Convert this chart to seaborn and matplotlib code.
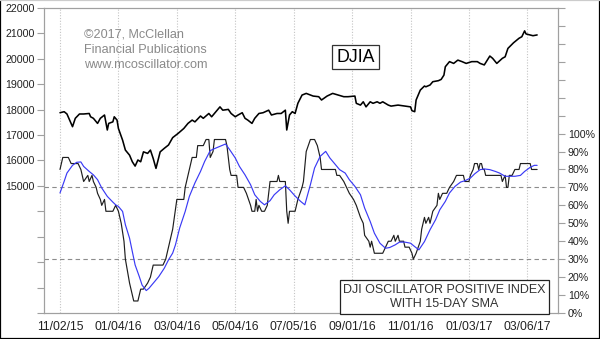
import numpy as np
import pandas as pd
import matplotlib
matplotlib.use("Agg")
import matplotlib.pyplot as plt
from matplotlib.lines import Line2D
from matplotlib.ticker import FixedLocator, FuncFormatter
import seaborn as sns

# ---- data: x values are NYSE trading sessions counted from 2015-11-02 (= 0) ----
djia_session = [
    0, 3, 5, 9, 11, 14, 17, 21, 22, 24,
    27, 29, 32, 34, 35, 38, 39, 41, 42, 45,
    47, 50, 52, 54, 56, 58, 60, 63, 65, 67,
    69, 72, 75, 78, 81, 85, 89, 92, 95, 97,
    101, 103, 107, 109, 113, 115, 117, 121, 123, 126,
    128, 131, 133, 135, 138, 140, 143, 146, 150, 152,
    156, 159, 162, 163, 165, 167, 169, 171, 174, 177,
    182, 186, 188, 192, 196, 200, 204, 207, 212, 213,
    216, 218, 220, 223, 225, 228, 230, 232, 236, 238,
    243, 248, 252, 253, 255, 256, 259, 262, 263, 266,
    268, 272, 274, 276, 277, 280, 283, 286, 289, 292,
    296, 300, 302, 305, 309, 311, 314, 318, 320, 322,
    326, 330, 332, 334, 335, 338, 340, 343,
]
djia_close = [
    17880, 17920, 17830, 17330, 17660, 17830, 17830, 17850, 17720, 17660,
    17460, 17660, 17790, 17200, 17460, 17520, 17720, 17590, 17260, 16800,
    16410, 16210, 15950, 15780, 16020, 15950, 16340, 16280, 16410, 16080,
    15690, 16340, 16480, 16610, 16900, 17070, 17260, 17460, 17590, 17520,
    17750, 17660, 17850, 17720, 17980, 18110, 17980, 18010, 17850, 17720,
    17790, 17880, 17660, 17590, 17460, 17660, 17850, 17880, 17980, 17790,
    17850, 17850, 17980, 17200, 17790, 17920, 17850, 18250, 18575, 18640,
    18535, 18510, 18380, 18535, 18640, 18575, 18510, 18510, 18535, 18250,
    18180, 18310, 18110, 18310, 18250, 18310, 18250, 18310, 18180, 18140,
    18180, 18140, 18110, 17960, 17920, 18380, 18770, 18930, 18900, 18970,
    19100, 19140, 19190, 19360, 19690, 19890, 19820, 19950, 19890, 19820,
    19890, 19890, 19820, 19760, 20110, 20020, 19820, 20020, 20080, 20410,
    20630, 20810, 20870, 21100, 20980, 20940, 20910, 20940,
]

osc_session = [
    0, 2, 6, 8, 11, 13, 15, 16, 17, 20,
    21, 23, 24, 26, 27, 29, 30, 32, 33, 38,
    40, 42, 44, 46, 47, 50, 51, 53, 56, 57,
    58, 60, 63, 65, 66, 67, 74, 76, 78, 79,
    81, 84, 89, 90, 92, 95, 98, 99, 103, 105,
    107, 108, 110, 111, 119, 120, 121, 122, 123, 127,
    128, 132, 134, 137, 138, 140, 141, 142, 143, 145,
    147, 149, 151, 156, 157, 158, 162, 163, 164, 165,
    169, 171, 174, 175, 177, 180, 183, 185, 187, 188,
    198, 199, 201, 204, 206, 208, 211, 213, 216, 218,
    219, 222, 223, 224, 226, 232, 234, 236, 238, 240,
    241, 243, 244, 247, 248, 251, 253, 254, 256, 259,
    260, 262, 263, 265, 266, 268, 271, 272, 273, 275,
    278, 280, 283, 285, 290, 291, 294, 295, 297, 298,
    300, 301, 302, 303, 304, 305, 306, 317, 318, 320,
    321, 322, 323, 325, 327, 330, 331, 338, 339, 343,
]
osc_pct = [
    80, 86.7, 86.7, 83.3, 83.3, 83.3, 80, 76.7, 73.3, 76.7,
    73.3, 76.7, 73.3, 70, 66.7, 63.3, 60, 63.3, 56.7, 56.7,
    60, 56.7, 50, 40, 30, 16.7, 13.3, 6.7, 6.7, 10,
    13.3, 13.3, 16.7, 20, 23.3, 26.7, 26.7, 30, 36.7, 40,
    46.7, 63.3, 63.3, 70, 76.7, 86.7, 86.7, 93.3, 93.3, 96.7,
    96.7, 86.7, 90, 96.7, 96.7, 93.3, 86.7, 80, 76.7, 76.7,
    70, 70, 66.7, 60, 56.7, 56.7, 63.3, 56.7, 60, 56.7,
    56.7, 60, 73.3, 73.3, 76.7, 73.3, 73.3, 56.7, 50, 56.7,
    56.7, 63.3, 70, 73.3, 90, 96.7, 96.7, 93.3, 86.7, 80,
    80, 76.7, 76.7, 73.3, 70, 66.7, 63.3, 60, 53.3, 50,
    43.3, 40, 36.7, 40, 33.3, 33.3, 36.7, 40, 40, 43.3,
    40, 43.3, 40, 40, 36.7, 36.7, 33.3, 30, 33.3, 40,
    46.7, 53.3, 50, 53.3, 50, 56.7, 60, 66.7, 63.3, 66.7,
    66.7, 70, 73.3, 76.7, 76.7, 73.3, 73.3, 76.7, 80, 83.3,
    83.3, 80, 83.3, 83.3, 80, 80, 76.7, 76.7, 73.3, 76.7,
    70, 70, 76.7, 76.7, 80, 80, 83.3, 83.3, 80, 80,
]

sma_session = [
    0, 3, 5, 9, 12, 15, 17, 21, 24, 27,
    30, 34, 38, 40, 42, 45, 47, 50, 52, 54,
    57, 59, 62, 64, 68, 71, 75, 78, 81, 83,
    86, 90, 93, 97, 101, 104, 108, 111, 115, 119,
    122, 126, 129, 133, 137, 140, 144, 147, 151, 154,
    158, 162, 165, 169, 173, 176, 180, 183, 187, 191,
    194, 198, 201, 205, 208, 212, 216, 219, 223, 226,
    230, 234, 237, 241, 244, 248, 252, 255, 258, 262,
    266, 270, 273, 277, 280, 284, 288, 291, 295, 298,
    302, 305, 309, 313, 316, 320, 324, 327, 331, 334,
    338, 341, 343,
]
sma_pct = [
    66.9, 73.4, 78, 82.3, 84, 84.2, 81.7, 78.9, 77, 74.3,
    69.7, 65, 61.8, 60.3, 59.4, 56.6, 49.2, 41.7, 34.2, 26.8,
    20.3, 15.6, 12.5, 13.8, 17.5, 20.3, 25, 29.6, 33.4, 38,
    47.3, 56.6, 65, 72.5, 78.9, 84.5, 90.5, 91.6, 92.9, 94.2,
    91, 86.4, 81.7, 77, 71.5, 65.9, 62.2, 60.3, 62.6, 65.9,
    68.7, 70.9, 68.7, 65.2, 62.2, 60.3, 71.5, 80.8, 87.3, 90.1,
    86.4, 82.7, 79.9, 78, 74.3, 70.6, 65.9, 58.5, 51, 44.5,
    38.9, 36.1, 36.5, 38, 39.5, 39.5, 38.9, 37, 35.2, 39.8,
    46.4, 52, 57.5, 62.2, 66.9, 70.6, 73, 73.7, 75.2, 77.5,
    79.9, 80.3, 79.9, 78.9, 78, 76.2, 76.2, 76.2, 76.7, 78.9,
    81.2, 82.3, 82.3,
]

tick_dates = ["2015-11-02", "2016-01-04", "2016-03-04", "2016-05-04", "2016-07-05",
              "2016-09-01", "2016-11-01", "2017-01-03", "2017-03-06"]
tick_labels = ["11/02/15", "01/04/16", "03/04/16", "05/04/16", "07/05/16",
               "09/01/16", "11/01/16", "01/03/17", "03/06/17"]
nyse_holidays = ["2015-11-26", "2015-12-25", "2016-01-01", "2016-01-18", "2016-02-15",
                 "2016-03-25", "2016-05-30", "2016-07-04", "2016-09-05", "2016-11-24",
                 "2016-12-26", "2017-01-02", "2017-01-16", "2017-02-20"]

watermark_lines = ["\u00a92017, McClellan", "Financial Publications", "www.mcoscillator.com"]

# ---- trading calendar used to place the date ticks ----
sessions = pd.bdate_range("2015-11-02", "2017-03-31")
sessions = sessions[~sessions.isin(pd.to_datetime(nyse_holidays))]
tick_pos = [sessions.get_loc(pd.Timestamp(d)) for d in tick_dates]

sns.set_style("white")
plt.rcParams["font.family"] = ["Liberation Sans", "DejaVu Sans"]

W, H = 600, 339
fig = plt.figure(figsize=(W / 100, H / 100), dpi=100)
fig.patch.set_facecolor("white")
ax = fig.add_axes([44 / W, 26 / H, 514 / W, 305 / H])
ax2 = ax.twinx()

spine_col = "#a0a0a0"
text_col = "#222222"

# DJIA on the left scale
sns.lineplot(x=djia_session, y=djia_close, ax=ax, color="black", linewidth=1.15,
             estimator=None, sort=False)
ax.set_xlim(-11.5, 358)
ax.set_ylim(10000, 22000)
ax.yaxis.set_major_locator(FixedLocator(np.arange(10000, 22001, 1000)))
ax.yaxis.set_major_formatter(FuncFormatter(lambda v, p: f"{v:.0f}" if v >= 15000 else ""))
ax.set_xticks(tick_pos)
ax.set_xticklabels(tick_labels)
ax.set_xlabel("")
ax.set_ylabel("")
ax.tick_params(axis="y", direction="out", length=5, width=0.8, color=spine_col,
               labelsize=7.7, labelcolor=text_col, pad=1.8, left=True)
ax.tick_params(axis="x", length=0, labelsize=8.7, labelcolor=text_col, pad=5.5)
for pos in tick_pos:
    ax.axvline(pos, color="#c4c4c4", linestyle=(0, (1, 1.5)), linewidth=0.8, zorder=0)

# oscillator and its 15-day SMA on the right scale
sns.lineplot(x=osc_session, y=osc_pct, ax=ax2, color="#1e1e1e", linewidth=0.85,
             estimator=None, sort=False)
sns.lineplot(x=sma_session, y=sma_pct, ax=ax2, color="#3a3af5", linewidth=0.85,
             estimator=None, sort=False)
for level in (30, 70):
    ax2.axhline(level, color="#8c8c8c", linestyle=(0, (4, 3)), linewidth=0.8, zorder=0)
ax2.set_ylim(0, 170)
ax2.set_xlim(-11.5, 358)
ax2.yaxis.set_major_locator(FixedLocator(np.arange(0, 171, 10)))
ax2.yaxis.set_major_formatter(FuncFormatter(lambda v, p: f"{v:.0f}%" if v <= 100 else ""))
ax2.set_ylabel("")
ax2.tick_params(axis="y", direction="out", length=5, width=0.8, color=spine_col,
                labelsize=7.7, labelcolor=text_col, pad=2, right=True)

for a in (ax, ax2):
    for s in a.spines.values():
        s.set_color(spine_col)
        s.set_linewidth(0.8)
    a.grid(False)

# annotations
for k, line in enumerate(watermark_lines):
    fig.text(84.5 / W, 1 - (37.5 + 15.1 * k) / H, line, ha="left", va="baseline",
             fontsize=9.1, color="#8a8a8a")

fig.text(355.5 / W, 1 - 57 / H, "DJIA", ha="center", va="center", fontsize=12.8,
         color="black",
         bbox=dict(boxstyle="square,pad=0.22", fc="white", ec="#333333", lw=0.9))

fig.text(444.5 / W, 1 - 297 / H, "DJI OSCILLATOR POSITIVE INDEX\nWITH 15-DAY SMA",
         ha="center", va="center", fontsize=9, color="#333333", linespacing=1.33,
         bbox=dict(boxstyle="square,pad=0.27", fc="white", ec="#222222", lw=0.9))

# outer frame
for xs, ys, c in (([0, 0], [0, 1], "black"), ([0, 1], [0, 0], "black"),
                  ([1, 1], [0, 1], "black"), ([0, 1], [1, 1], "#cccccc")):
    fig.add_artist(Line2D(xs, ys, transform=fig.transFigure, color=c, lw=1.6))

fig.savefig("out.png", dpi=100, facecolor="white")
